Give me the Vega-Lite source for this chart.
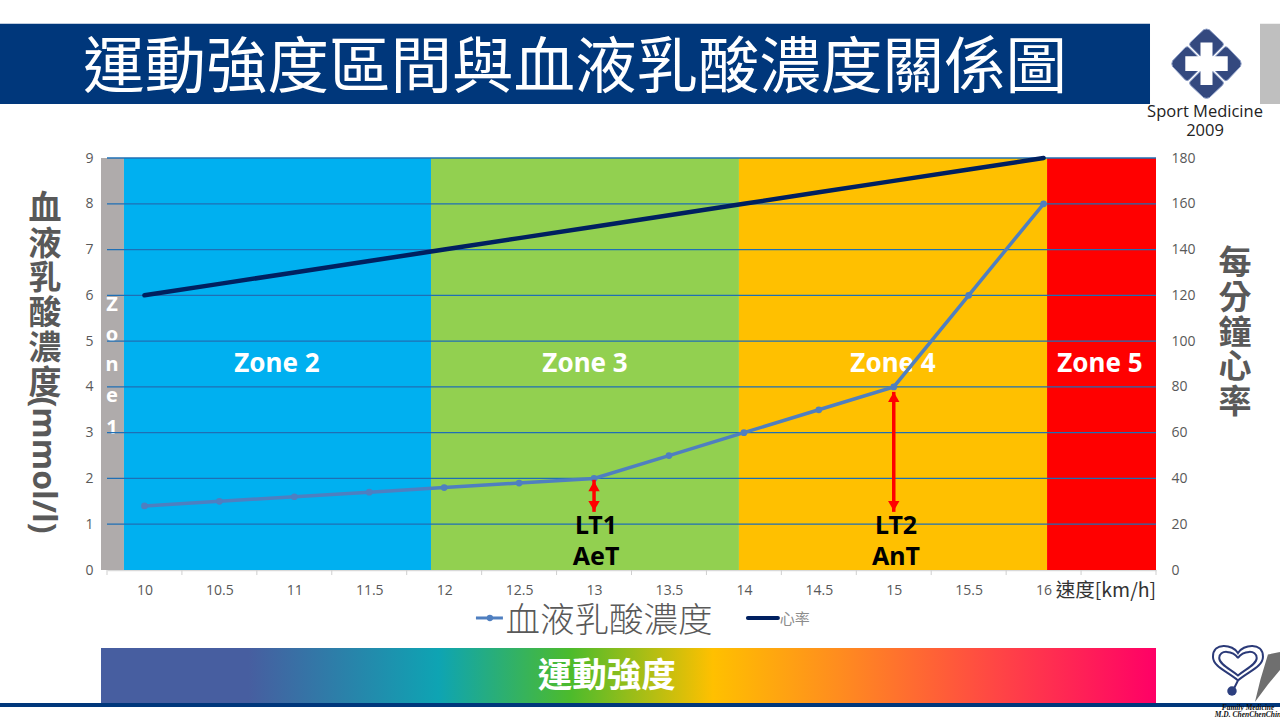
{
  "$schema": "https://vega.github.io/schema/vega-lite/v6.json",
  "width": 1049,
  "height": 412,
  "autosize": {"type": "none"},
  "padding": {"left": 107, "top": 158, "right": 124, "bottom": 149},
  "background": "#ffffff",
  "config": {"view": {"stroke": null}, "font": "Noto Sans"},
  "datasets": {
    "blocks": [
      {"name": "title", "speed": 9.036, "speed_end": 16.71, "level": 10.18, "level_end": 11.93},
      {"name": "side", "speed": 17.444, "speed_end": 17.58, "level": 10.18, "level_end": 11.93},
      {"name": "base", "speed": 9.03, "speed_end": 17.58, "level": -2.905, "level_end": -2.99},
      {"name": "Zone 1", "speed": 9.71, "speed_end": 9.863, "level": 0, "level_end": 9},
      {"name": "Zone 2", "speed": 9.863, "speed_end": 11.912, "level": 0, "level_end": 9},
      {"name": "Zone 3", "speed": 11.912, "speed_end": 13.967, "level": 0, "level_end": 9},
      {"name": "Zone 4", "speed": 13.967, "speed_end": 16.023, "level": 0, "level_end": 9},
      {"name": "Zone 5", "speed": 16.023, "speed_end": 16.75, "level": 0, "level_end": 9}
    ],
    "grid": [
      {"speed": 9.75, "speed_end": 16.75, "level": 1},
      {"speed": 9.75, "speed_end": 16.75, "level": 2},
      {"speed": 9.75, "speed_end": 16.75, "level": 3},
      {"speed": 9.75, "speed_end": 16.75, "level": 4},
      {"speed": 9.75, "speed_end": 16.75, "level": 5},
      {"speed": 9.75, "speed_end": 16.75, "level": 6},
      {"speed": 9.75, "speed_end": 16.75, "level": 7},
      {"speed": 9.75, "speed_end": 16.75, "level": 8},
      {"speed": 9.75, "speed_end": 16.75, "level": 9}
    ],
    "ticks": [
      {"speed": 9.75, "level": 0, "level_end": -0.11},
      {"speed": 10.25, "level": 0, "level_end": -0.11},
      {"speed": 10.75, "level": 0, "level_end": -0.11},
      {"speed": 11.25, "level": 0, "level_end": -0.11},
      {"speed": 11.75, "level": 0, "level_end": -0.11},
      {"speed": 12.25, "level": 0, "level_end": -0.11},
      {"speed": 12.75, "level": 0, "level_end": -0.11},
      {"speed": 13.25, "level": 0, "level_end": -0.11},
      {"speed": 13.75, "level": 0, "level_end": -0.11},
      {"speed": 14.25, "level": 0, "level_end": -0.11},
      {"speed": 14.75, "level": 0, "level_end": -0.11},
      {"speed": 15.25, "level": 0, "level_end": -0.11},
      {"speed": 15.75, "level": 0, "level_end": -0.11},
      {"speed": 16.25, "level": 0, "level_end": -0.11},
      {"speed": 16.75, "level": 0, "level_end": -0.11}
    ],
    "series": [
      {"speed": 10, "level": 1.4, "hr": 120},
      {"speed": 10.5, "level": 1.5, "hr": 125},
      {"speed": 11, "level": 1.6, "hr": 130},
      {"speed": 11.5, "level": 1.7, "hr": 135},
      {"speed": 12, "level": 1.8, "hr": 140},
      {"speed": 12.5, "level": 1.9, "hr": 145},
      {"speed": 13, "level": 2, "hr": 150},
      {"speed": 13.5, "level": 2.5, "hr": 155},
      {"speed": 14, "level": 3, "hr": 160},
      {"speed": 14.5, "level": 3.5, "hr": 165},
      {"speed": 15, "level": 4, "hr": 170},
      {"speed": 15.5, "level": 6, "hr": 175},
      {"speed": 16, "level": 8, "hr": 180}
    ],
    "arrows": [
      {"speed": 13, "level": 1.97, "level_end": 1.27},
      {"speed": 15, "level": 3.89, "level_end": 1.27}
    ],
    "heads": [
      {"speed": 13, "level": 1.83, "dir": "triangle-up"},
      {"speed": 13, "level": 1.4, "dir": "triangle-down"},
      {"speed": 15, "level": 3.78, "dir": "triangle-up"},
      {"speed": 15, "level": 1.4, "dir": "triangle-down"}
    ]
  },
  "encoding": {
    "x": {
      "field": "speed",
      "type": "quantitative",
      "scale": {"domain": [9.75, 16.75], "nice": false, "zero": false},
      "axis": null
    }
  },
  "layer": [
    {
      "encoding": {
        "y": {
          "field": "level",
          "type": "quantitative",
          "scale": {"domain": [0, 9], "nice": false},
          "axis": {
            "orient": "left",
            "title": null,
            "values": [0, 1, 2, 3, 4, 5, 6, 7, 8, 9],
            "grid": false,
            "ticks": false,
            "domain": false,
            "labelColor": "#595959",
            "labelFontSize": 14,
            "labelFont": "Open Sans",
            "labelPadding": 14
          }
        }
      },
      "layer": [
        {
          "data": {"name": "blocks"},
          "mark": {"type": "rect"},
          "encoding": {
            "x2": {"field": "speed_end"},
            "y2": {"field": "level_end"},
            "color": {
              "field": "name",
              "type": "nominal",
              "scale": {
                "domain": ["title", "side", "base", "Zone 1", "Zone 2", "Zone 3", "Zone 4", "Zone 5"],
                "range": ["#00377b", "#bfbfbf", "#00377b", "#afabab", "#00b0f0", "#92d050", "#ffc000", "#ff0000"]
              },
              "legend": null
            }
          }
        },
        {
          "data": {"values": [{"speed": 9.71, "speed_end": 16.75, "level": -1.704, "level_end": -2.905}]},
          "mark": {
            "type": "rect",
            "color": {
              "gradient": "linear",
              "x1": 0, "y1": 0, "x2": 1, "y2": 0,
              "stops": [
                {"offset": 0, "color": "#475ea0"},
                {"offset": 0.14, "color": "#475ea0"},
                {"offset": 0.32, "color": "#0ea4b3"},
                {"offset": 0.445, "color": "#4cbb2c"},
                {"offset": 0.58, "color": "#ffc000"},
                {"offset": 0.7, "color": "#ff8c1f"},
                {"offset": 0.85, "color": "#ff4545"},
                {"offset": 1, "color": "#ff0066"}
              ]
            }
          },
          "encoding": {"x2": {"field": "speed_end"}, "y2": {"field": "level_end"}}
        },
        {
          "data": {
            "values": [
              {"label": "Zone 2", "speed": 10.884, "level": 4.5},
              {"label": "Zone 3", "speed": 12.94, "level": 4.5},
              {"label": "Zone 4", "speed": 14.995, "level": 4.5},
              {"label": "Zone 5", "speed": 16.376, "level": 4.5}
            ]
          },
          "mark": {"type": "text", "color": "#ffffff", "font": "Noto Sans", "fontWeight": "bold", "fontSize": 26, "baseline": "middle"},
          "encoding": {"text": {"field": "label"}}
        },
        {
          "data": {
            "values": [
              {"label": "Z", "speed": 9.783, "level": 5.79},
              {"label": "o", "speed": 9.783, "level": 5.13},
              {"label": "n", "speed": 9.783, "level": 4.48},
              {"label": "e", "speed": 9.783, "level": 3.8},
              {"label": "1", "speed": 9.783, "level": 3.1}
            ]
          },
          "mark": {"type": "text", "color": "#ffffff", "font": "Noto Sans", "fontWeight": "bold", "fontSize": 20, "baseline": "middle"},
          "encoding": {"text": {"field": "label"}}
        },
        {
          "data": {"name": "grid"},
          "mark": {"type": "rule", "color": "#1f6fb5", "strokeWidth": 1.3},
          "encoding": {"x2": {"field": "speed_end"}}
        },
        {
          "data": {"name": "ticks"},
          "mark": {"type": "rule", "color": "#cfcfcf", "strokeWidth": 1},
          "encoding": {"y2": {"field": "level_end"}}
        },
        {
          "data": {"name": "series"},
          "mark": {"type": "line", "color": "#4f7fc0", "strokeWidth": 3.5}
        },
        {
          "data": {"name": "series"},
          "mark": {"type": "point", "filled": true, "color": "#4f7fc0", "size": 45, "opacity": 1}
        },
        {
          "data": {"name": "arrows"},
          "mark": {"type": "rule", "color": "#ff0000", "strokeWidth": 3.5},
          "encoding": {"y2": {"field": "level_end"}}
        },
        {
          "data": {"name": "heads"},
          "mark": {"type": "point", "filled": true, "color": "#ff0000", "size": 130, "opacity": 1},
          "encoding": {"shape": {"field": "dir", "type": "nominal", "scale": null, "legend": null}}
        },
        {
          "data": {
            "values": [
              {"label": "LT1", "speed": 13.013, "level": 0.96},
              {"label": "AeT", "speed": 13.013, "level": 0.284},
              {"label": "LT2", "speed": 15.015, "level": 0.96},
              {"label": "AnT", "speed": 15.015, "level": 0.284}
            ]
          },
          "mark": {"type": "text", "color": "#000000", "font": "Noto Sans", "fontWeight": "bold", "fontSize": 25, "baseline": "middle"},
          "encoding": {"text": {"field": "label"}}
        },
        {
          "data": {"values": [{"label": "運動強度區間與血液乳酸濃度關係圖", "speed": 12.873, "level": 10.92}]},
          "mark": {"type": "text", "color": "#ffffff", "font": "Noto Sans CJK TC", "fontSize": 61.5, "baseline": "middle"},
          "encoding": {"text": {"field": "label"}}
        },
        {
          "data": {"values": [{"label": "運動強度", "speed": 13.085, "level": -2.34}]},
          "mark": {"type": "text", "color": "#ffffff", "font": "Noto Sans CJK TC", "fontWeight": "bold", "fontSize": 34.5, "baseline": "middle"},
          "encoding": {"text": {"field": "label"}}
        },
        {
          "data": {"values": [
            {"label": "血", "speed": 9.336, "level": 7.89},
            {"label": "液", "speed": 9.336, "level": 7.1},
            {"label": "乳", "speed": 9.336, "level": 6.36},
            {"label": "酸", "speed": 9.336, "level": 5.596},
            {"label": "濃", "speed": 9.336, "level": 4.83},
            {"label": "度", "speed": 9.336, "level": 4.067},
            {"label": "每", "speed": 17.277, "level": 6.69},
            {"label": "分", "speed": 17.277, "level": 5.92},
            {"label": "鐘", "speed": 17.277, "level": 5.16},
            {"label": "心", "speed": 17.277, "level": 4.41},
            {"label": "率", "speed": 17.277, "level": 3.65}
          ]},
          "mark": {"type": "text", "color": "#595959", "font": "Noto Sans CJK TC", "fontWeight": "bold", "fontSize": 33, "baseline": "middle"},
          "encoding": {"text": {"field": "label"}}
        },
        {
          "data": {"values": [{"label": "(mmol/l)", "speed": 9.323, "level": 2.294}]},
          "mark": {"type": "text", "color": "#595959", "font": "Open Sans", "fontWeight": "bold", "fontSize": 32, "angle": 90, "baseline": "middle"},
          "encoding": {"text": {"field": "label"}}
        },
        {
          "data": {"values": [{"label": "速度[km/h]", "speed": 16.416, "level": -0.46}]},
          "mark": {"type": "text", "color": "#333333", "font": "Noto Sans CJK TC", "fontSize": 19.5, "baseline": "middle"},
          "encoding": {"text": {"field": "label"}}
        },
        {
          "data": {"values": [
            {"label": "Sport Medicine", "speed": 17.077, "level": 10.004},
            {"label": "2009", "speed": 17.077, "level": 9.589}
          ]},
          "mark": {"type": "text", "color": "#222222", "font": "Open Sans", "fontSize": 16.5, "baseline": "middle"},
          "encoding": {"text": {"field": "label"}}
        },
        {
          "data": {"values": [{"speed": 12.212, "speed_end": 12.392, "level": -1.048}]},
          "mark": {"type": "rule", "color": "#4f7fc0", "strokeWidth": 3},
          "encoding": {"x2": {"field": "speed_end"}}
        },
        {
          "data": {"values": [{"speed": 12.305, "level": -1.048}]},
          "mark": {"type": "point", "filled": true, "color": "#4f7fc0", "size": 40, "opacity": 1}
        },
        {
          "data": {"values": [{"label": "血液乳酸濃度", "speed": 12.41, "level": -1.13}]},
          "mark": {"type": "text", "color": "#595959", "font": "Noto Sans CJK TC", "fontWeight": 300, "fontSize": 34.5, "align": "left", "baseline": "middle"},
          "encoding": {"text": {"field": "label"}}
        },
        {
          "data": {"values": [{"speed": 14.027, "speed_end": 14.227, "level": -1.048}]},
          "mark": {"type": "rule", "color": "#002060", "strokeWidth": 4, "strokeCap": "round"},
          "encoding": {"x2": {"field": "speed_end"}}
        },
        {
          "data": {"values": [{"label": "心率", "speed": 14.24, "level": -1.06}]},
          "mark": {"type": "text", "color": "#8c8c8c", "font": "Noto Sans CJK TC", "fontSize": 15, "align": "left", "baseline": "middle"},
          "encoding": {"text": {"field": "label"}}
        },
        {
          "data": {"values": [{"speed": 17.087, "level": 11.06}]},
          "mark": {
            "type": "point",
            "filled": true,
            "opacity": 1,
            "color": "#34497f",
            "stroke": "#8fa0c8",
            "strokeWidth": 1,
            "size": 5000,
            "shape": "M-.08,-.96 Q0,-1 .08,-.96 L.46,-.6 Q.5,-.54 .46,-.5 L.16,-.2 L-.16,-.2 L-.46,-.5 Q-.5,-.54 -.46,-.6 Z M.96,-.08 Q1,0 .96,.08 L.6,.46 Q.54,.5 .5,.46 L.2,.16 L.2,-.16 L.5,-.46 Q.54,-.5 .6,-.46 Z M.08,.96 Q0,1 -.08,.96 L-.46,.6 Q-.5,.54 -.46,.5 L-.16,.2 L.16,.2 L.46,.5 Q.5,.54 .46,.6 Z M-.96,.08 Q-1,0 -.96,-.08 L-.6,-.46 Q-.54,-.5 -.5,-.46 L-.2,-.16 L-.2,.16 L-.5,.46 Q-.54,.5 -.6,.46 Z"
          }
        },
        {
          "data": {"values": [{"speed": 17.087, "level": 11.06}]},
          "mark": {
            "type": "point",
            "filled": true,
            "opacity": 1,
            "color": "#ffffff",
            "size": 5000,
            "shape": "M-.17,-.6 L.17,-.6 L.17,-.21 L.6,-.21 L.6,.21 L.17,.21 L.17,.6 L-.17,.6 L-.17,.21 L-.6,.21 L-.6,-.21 L-.17,-.21 Z"
          }
        },
        {
          "data": {"values": [{"speed": 17.297, "level": -2.031}]},
          "mark": {
            "type": "point",
            "filled": false,
            "opacity": 1,
            "color": "#2b3a78",
            "strokeWidth": 2,
            "size": 2500,
            "shape": "M0,-.4 C-.2,-.75 -1,-.85 -1,-.25 C-1,.15 -.4,.35 0,.7 C.4,.35 1,.15 1,-.25 C1,-.85 .2,-.75 0,-.4 Z M0,-.2 C-.2,-.5 -.75,-.55 -.75,-.2 C-.75,.05 -.3,.25 0,.5 C.3,.25 .75,.05 .75,-.2 C.75,-.55 .2,-.5 0,-.2 M0,.7 L-.2,1.1"
          }
        },
        {
          "data": {"values": [{"speed": 17.257, "level": -2.643}]},
          "mark": {"type": "point", "filled": true, "opacity": 1, "color": "#2c3f7f", "size": 90, "shape": "circle"}
        },
        {
          "data": {"values": [{"speed": 17.497, "level": -2.337}]},
          "mark": {
            "type": "point",
            "filled": true,
            "opacity": 1,
            "color": "#6f6f6f",
            "size": 2500,
            "shape": "M-.52,1 L-.3,.1 L0,-.9 L.48,-1 L.5,-.3 L0,.3 Z"
          }
        },
        {
          "data": {"values": [
            {"label": "Family Medicine", "speed": 17.364, "level": -3.014},
            {"label": "M.D. ChenChenChin", "speed": 17.364, "level": -3.167}
          ]},
          "mark": {"type": "text", "color": "#111111", "font": "Liberation Serif", "fontStyle": "italic", "fontWeight": "bold", "fontSize": 7.5, "baseline": "middle"},
          "encoding": {"text": {"field": "label"}}
        }
      ]
    },
    {
      "data": {"name": "series"},
      "mark": {"type": "line", "color": "#002060", "strokeWidth": 4.5, "strokeCap": "round"},
      "encoding": {
        "x": {
          "field": "speed",
          "type": "quantitative",
          "scale": {"domain": [9.75, 16.75], "nice": false, "zero": false},
          "axis": {
            "orient": "bottom",
            "title": null,
            "values": [10, 10.5, 11, 11.5, 12, 12.5, 13, 13.5, 14, 14.5, 15, 15.5, 16],
            "format": ".3~g",
            "grid": false,
            "ticks": false,
            "domainColor": "#d9d9d9",
            "domainWidth": 1.5,
            "labelColor": "#595959",
            "labelFontSize": 14,
            "labelFont": "Open Sans",
            "labelPadding": 13,
            "labelFlush": false
          }
        },
        "y": {
          "field": "hr",
          "type": "quantitative",
          "scale": {"domain": [0, 180], "nice": false},
          "axis": {
            "orient": "right",
            "title": null,
            "values": [0, 20, 40, 60, 80, 100, 120, 140, 160, 180],
            "grid": false,
            "ticks": false,
            "domain": false,
            "labelColor": "#595959",
            "labelFontSize": 14,
            "labelFont": "Open Sans",
            "labelPadding": 15
          }
        }
      }
    }
  ],
  "resolve": {"scale": {"y": "independent"}, "axis": {"x": "independent"}}
}
